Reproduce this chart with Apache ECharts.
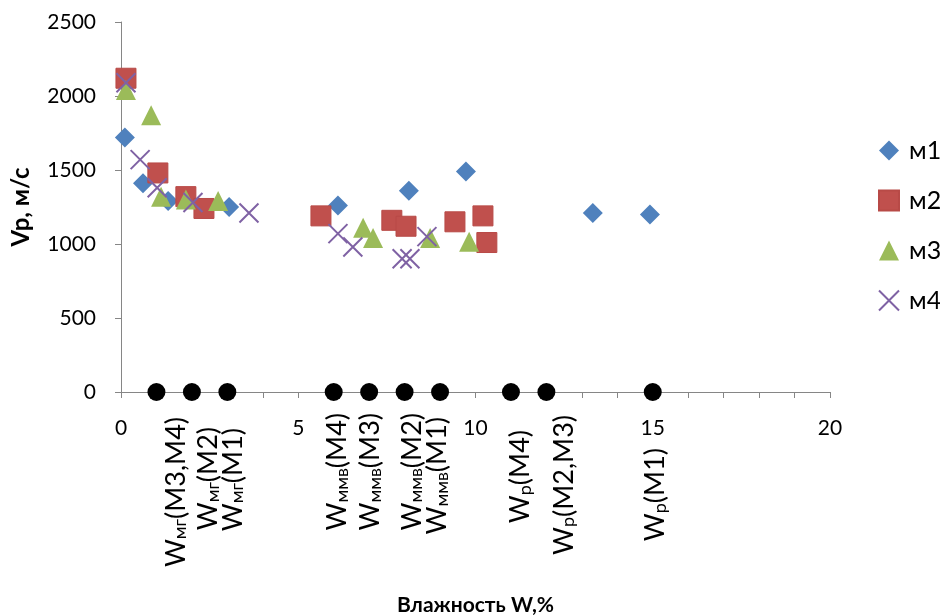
<!DOCTYPE html>
<html><head><meta charset="utf-8">
<script src="https://cdn.jsdelivr.net/npm/echarts@6/dist/echarts.min.js"></script>
<style>html,body{margin:0;padding:0;background:#fff}#c{width:940px;height:616px}</style>
</head><body><div id="c"></div>
<script>
// ---- data ----
const seriesNames = ['м1', 'м2', 'м3', 'м4'];
const m1 = [[0.11,1720],[0.62,1410],[1.33,1290],[3.05,1250],[6.12,1260],[8.12,1360],[9.73,1490],[13.31,1210],[14.92,1200]];
const m2 = [[0.14,2120],[1.04,1480],[1.83,1320],[2.34,1240],[5.64,1190],[7.64,1160],[8.04,1120],[9.42,1150],[10.21,1190],[10.32,1010]];
const m3 = [[0.14,2040],[0.85,1870],[1.13,1320],[1.83,1300],[2.74,1290],[6.83,1110],[7.11,1040],[8.72,1040],[9.82,1015]];
const m4 = [[0.14,2090],[0.54,1570],[1.02,1380],[2.03,1280],[3.61,1210],[6.12,1070],[6.54,980],[7.93,900],[8.15,900],[8.63,1050]];
const markX   = [1, 2, 3, 6, 7, 8, 9, 11, 12, 15];
const markSub = ['мг','мг','мг','ммв','ммв','ммв','ммв','р','р','р'];
const markTag = ['(M3,M4)','(M2)','(M1)','(M4)','(M3)','(M2)','(M1)','(M4)','(M2,M3)','(M1)'];
const xTicks = [0, 5, 10, 15, 20];
const yTicks = [0, 500, 1000, 1500, 2000, 2500];
// label placement (screen shift of label top-centre from the marker), layout only
const labelShift = [[18,25],[15,35],[4,36],[2,21],[0,21],[6,21],[-4,25],[8,38],[16,23],[1,56]];

const FONT = 'Lato, "Noto Sans", sans-serif';
const chart = echarts.init(document.getElementById('c'), null, {renderer: 'canvas'});
const axisGray = '#868686';

const markData = markX.map((x, i) => ({
  value: [x, 0],
  label: { offset: [-labelShift[i][1], labelShift[i][0]] }
}));

const option = {
  animation: false,
  backgroundColor: '#fff',
  grid: { left: 121, top: 22, width: 709, height: 370, outerBoundsMode: 'none', containLabel: false },
  legend: {
    orient: 'vertical', left: 873, top: 133, itemGap: 25,
    itemWidth: 20, itemHeight: 20,
    data: seriesNames,
    textStyle: { fontFamily: FONT, fontSize: 25, color: '#000', padding: [0,0,0,5] }
  },
  xAxis: {
    type: 'value', min: 0, max: 20, interval: 1,
    name: 'Влажность W,%', nameLocation: 'middle', nameGap: 203,
    nameTextStyle: { fontFamily: FONT, fontSize: 21, fontWeight: 'bold', color: '#000' },
    axisLine: { show: true, onZero: false, lineStyle: { color: axisGray, width: 1 } },
    axisTick: { show: true, length: 6, lineStyle: { color: axisGray } },
    splitLine: { show: false },
    axisLabel: {
      fontFamily: FONT, fontSize: 21, color: '#000', margin: 26,
      formatter: v => (xTicks.indexOf(v) >= 0 ? String(v) : ''),
      showMinLabel: true, showMaxLabel: true
    }
  },
  yAxis: {
    type: 'value', min: 0, max: 2500, interval: 500,
    name: 'Vp, м/с', nameLocation: 'middle', nameGap: 88, nameRotate: 90,
    nameTextStyle: { fontFamily: FONT, fontSize: 24, fontWeight: 'bold', color: '#000' },
    axisLine: { show: true, lineStyle: { color: axisGray, width: 1 } },
    axisTick: { show: true, length: 6, lineStyle: { color: axisGray } },
    splitLine: { show: false },
    axisLabel: {
      fontFamily: FONT, fontSize: 21, color: '#000', margin: 25,
      formatter: v => (yTicks.indexOf(v) >= 0 ? String(v) : '')
    }
  },
  series: [
    { name: 'м1', type: 'scatter', data: m1, symbol: 'diamond', symbolSize: 20,
      itemStyle: { color: '#4F81BD', opacity: 1 } },
    { name: 'м2', type: 'scatter', data: m2, symbol: 'rect', symbolSize: 20,
      itemStyle: { color: '#C0504D', borderColor: '#B84A47', borderWidth: 1, opacity: 1 } },
    { name: 'м3', type: 'scatter', data: m3, symbol: 'triangle', symbolSize: 20,
      itemStyle: { color: '#9BBB59', opacity: 1 } },
    { name: 'м4', type: 'scatter', data: m4, symbol: 'path://M0,0L10,10M10,0L0,10', symbolSize: 19,
      itemStyle: { color: 'transparent', borderColor: '#7F62A4', borderWidth: 2, opacity: 1 } },
    { name: 'W', type: 'scatter', data: markData, symbol: 'circle', symbolSize: 18,
      itemStyle: { color: '#000', opacity: 1 },
      label: {
        show: true, position: 'inside', rotate: 90, align: 'right', verticalAlign: 'middle',
        formatter: p => '{b|W}{s|' + markSub[p.dataIndex] + '}{b|' + markTag[p.dataIndex] + '}',
        rich: {
          b: { fontFamily: FONT, fontSize: 27, color: '#000', verticalAlign: 'bottom', lineHeight: 30 },
          s: { fontFamily: FONT, fontSize: 18, color: '#000', verticalAlign: 'bottom', lineHeight: 30 }
        }
      }
    }
  ]
};
chart.setOption(option);
</script></body></html>
